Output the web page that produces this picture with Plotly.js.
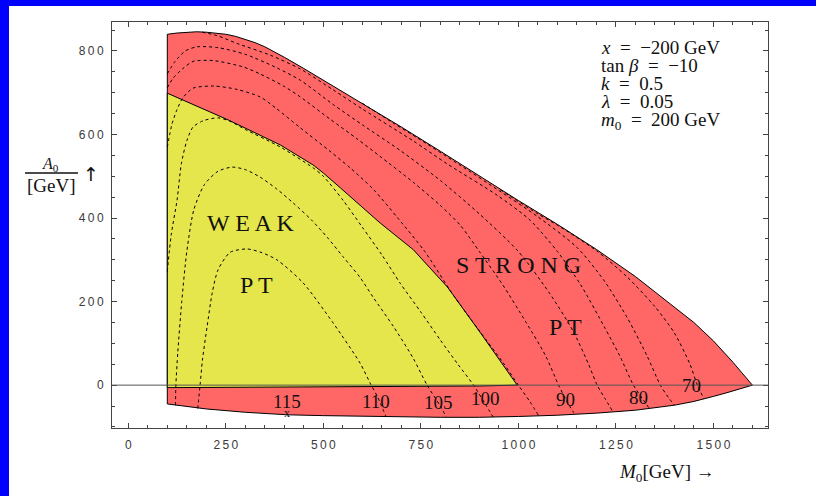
<!DOCTYPE html>
<html>
<head>
<meta charset="utf-8">
<script src="https://cdn.plot.ly/plotly-3.0.1.min.js"></script>
<style>
  html, body { margin:0; padding:0; background:#0000FF; width:816px; height:496px; overflow:hidden; }
  #chart { position:absolute; left:9px; top:6px; width:807px; height:490px; background:#fff; }
</style>
</head>
<body>
<div id="chart"></div>
<script>
// ---------- data ----------
const xTickVals = [0, 250, 500, 750, 1000, 1250, 1500];
const yTickVals = [0, 200, 400, 600, 800];

// outer (strong PT, red) region
const redTopX = [100, 100, 125, 150, 175, 200, 225, 250, 275, 300, 325, 350, 375, 400, 450, 500, 600, 700, 800, 900, 1000, 1100, 1200, 1300, 1400, 1450, 1500, 1550, 1600];
const redTopY = [-45, 840, 843, 845, 846, 845, 843, 840, 835, 828, 820, 810, 798, 785, 758, 730, 675, 618, 560, 500, 442, 385, 325, 260, 188, 150, 106, 55, 0];
const redBotX = [1570, 1535, 1500, 1450, 1400, 1300, 1200, 1100, 1000, 900, 800, 700, 600, 500, 408, 300, 200, 100];
const redBotY = [-9, -18, -27, -39, -48, -60, -67, -72, -75, -77, -77, -76, -74, -73, -71, -65, -57, -45];

// weak PT (yellow) region
const yelTopX = [100, 100, 256, 390, 474, 500, 544, 646, 731, 818, 903, 997];
const yelTopY = [-6, 699, 635, 575, 527, 508, 472, 388, 324, 235, 125, 0];
const yelBotX = [900, 600, 300, 100];
const yelBotY = [-2, -4, -5, -6];

// Higgs-mass contours (GeV)
const c110X = [178, 184, 190, 202, 215, 230, 261, 304, 340, 381, 448, 525, 594, 620, 640, 660];
const c110Y = [-56, 0, 60, 140, 220, 276, 318, 326, 318, 300, 245, 149, 53, 5, -30, -74];
const c105X = [121, 122, 127, 137, 150, 168, 195, 230, 266, 300, 338, 380, 423, 470, 510, 550, 594, 628, 680, 730, 766, 800, 815];
const c105Y = [-48, 0, 80, 200, 320, 420, 480, 512, 522, 516, 498, 470, 436, 395, 354, 308, 258, 210, 140, 65, 0, -50, -76];
const c100X = [100, 110, 125, 136, 150, 166, 192, 230, 260, 300, 390, 474, 500, 551, 600, 650, 697, 750, 800, 845, 885, 915, 935];
const c100Y = [272, 360, 443, 530, 585, 618, 633, 640, 632, 612, 570, 520, 500, 442, 378, 312, 244, 175, 108, 50, 0, -45, -76];
const c95X = [100, 112, 125, 140, 166, 220, 279, 338, 380, 441, 517, 569, 629, 691, 760, 830, 900, 960, 1000, 1030, 1052];
const c95Y = [570, 625, 660, 688, 711, 716, 708, 690, 662, 616, 560, 520, 468, 400, 320, 220, 130, 55, 0, -40, -73];
const c90X = [100, 115, 140, 166, 218, 294, 338, 400, 441, 517, 586, 645, 730, 799, 851, 900, 960, 1020, 1070, 1103, 1125, 1142];
const c90Y = [712, 735, 758, 775, 777, 762, 745, 715, 690, 637, 590, 548, 486, 431, 383, 320, 240, 150, 70, 0, -40, -66];
const c85X = [100, 120, 146, 176, 230, 300, 380, 441, 525, 602, 700, 800, 900, 1000, 1080, 1140, 1180, 1202, 1222, 1242];
const c85Y = [745, 775, 800, 810, 808, 792, 760, 730, 672, 622, 560, 490, 410, 320, 220, 130, 50, 0, -32, -63];
const c80X = [190, 230, 279, 364, 441, 525, 602, 730, 817, 945, 1030, 1100, 1160, 1220, 1260, 1295, 1320, 1336];
const c80Y = [845, 836, 818, 790, 757, 707, 660, 585, 530, 455, 395, 320, 240, 140, 70, 0, -35, -56];
const c75X = [600, 680, 741, 850, 950, 1050, 1150, 1220, 1280, 1330, 1364, 1385, 1400];
const c75Y = [675, 627, 592, 527, 466, 403, 330, 250, 160, 70, 0, -30, -48];
const c70X = [953, 1050, 1100, 1200, 1280, 1350, 1400, 1440, 1459, 1476];
const c70Y = [468, 410, 383, 322, 258, 188, 125, 50, 0, -33];

// contour labels
const labelText = ['115', '110', '105', '100', '90', '80', '70'];
const labelX = [407, 636, 795, 915, 1120, 1309, 1443];
const labelY = [-40, -40, -42, -33, -35, -30, 0];

// region labels
const regionText = ['W E A K', 'P T', 'S T R O N G', 'P T'];
const regionX = [315, 328, 1000, 1120];
const regionY = [388, 240, 288, 140];

// parameters
const paramText = ['<i>x</i>\u2002=\u2002\u2212200 GeV', 'tan <i>\u03b2</i>\u2002=\u2002\u221210', '<i>k</i>\u2002=\u20020.5', '<i>\u03bb</i>\u2002=\u20020.05', '<i>m</i><sub>0</sub>\u2002=\u2002200 GeV'];
const paramY = [809, 766, 723, 678, 632];
const paramX = 1207;

// ---------- build ----------
const serif = 'Liberation Serif, DejaVu Serif, serif';
const spaced = v => String(v).split('').join('\u2009');

const traces = [];
traces.push({
  x: redTopX.concat(redBotX), y: redTopY.concat(redBotY),
  mode: 'lines', fill: 'toself', fillcolor: '#FF6666',
  line: {color: '#000', width: 1}, hoverinfo: 'skip'
});
traces.push({
  x: yelTopX.concat(yelBotX), y: yelTopY.concat(yelBotY),
  mode: 'lines', fill: 'toself', fillcolor: '#E5E64C',
  line: {color: '#000', width: 1}, hoverinfo: 'skip'
});
const contours = [[c110X, c110Y], [c105X, c105Y], [c100X, c100Y], [c95X, c95Y], [c90X, c90Y],
                  [c85X, c85Y], [c80X, c80Y], [c75X, c75Y], [c70X, c70Y]];
contours.forEach(c => traces.push({
  x: c[0], y: c[1], mode: 'lines', hoverinfo: 'skip',
  line: {color: '#000', width: 1, dash: '3px,3px', shape: 'spline', smoothing: 0.7}
}));

const annotations = [];
labelText.forEach((t, i) => annotations.push({
  x: labelX[i], y: labelY[i], xref: 'x', yref: 'y', text: t, showarrow: false,
  xanchor: 'center', yanchor: 'middle',
  font: {family: serif, size: 19, color: '#111'}
}));
annotations.push({x: 407, y: -66, xref: 'x', yref: 'y', text: 'x', showarrow: false,
  xanchor: 'center', yanchor: 'middle', font: {family: serif, size: 12, color: '#111'}});
regionText.forEach((t, i) => annotations.push({
  x: regionX[i], y: regionY[i], xref: 'x', yref: 'y', text: t, showarrow: false,
  xanchor: 'center', yanchor: 'middle',
  font: {family: serif, size: 24, color: '#111'}
}));
paramText.forEach((t, i) => annotations.push({
  x: paramX, y: paramY[i], xref: 'x', yref: 'y', text: t, showarrow: false,
  xanchor: 'left', yanchor: 'middle', font: {family: serif, size: 19, color: '#111'}
}));
// y-axis title as fraction
annotations.push({x: -0.0945, y: 0.648, xref: 'paper', yref: 'paper', text: '<i>A</i><sub>0</sub>',
  xanchor: 'center', yanchor: 'middle',
  showarrow: false, font: {family: serif, size: 16, color: '#111'}});
annotations.push({x: -0.0915, y: 0.5985, xref: 'paper', yref: 'paper', text: '[GeV]',
  xanchor: 'center', yanchor: 'middle',
  showarrow: false, font: {family: serif, size: 19, color: '#111'}});
annotations.push({x: -0.032, y: 0.6256, xref: 'paper', yref: 'paper', text: '\u2191',
  xanchor: 'center', yanchor: 'middle',
  showarrow: false, font: {family: 'DejaVu Sans', size: 19, color: '#111'}});
// x-axis title
annotations.push({x: 0.770, y: -0.1108, xref: 'paper', yref: 'paper', xanchor: 'left', yanchor: 'middle',
  text: '<i>M</i><sub>0</sub>[GeV] \u2192', showarrow: false,
  font: {family: serif, size: 19, color: '#111'}});

const axisCommon = {
  ticks: 'inside', ticklen: 5, tickcolor: '#444', tickwidth: 1,
  showline: true, linecolor: '#444', linewidth: 1, mirror: 'ticks',
  showgrid: false, zeroline: false, fixedrange: true,
  tickfont: {family: 'Liberation Sans, DejaVu Sans, sans-serif', size: 12, color: '#3a3a3a'}
};

const layout = {
  width: 807, height: 490,
  margin: {l: 103, r: 48, t: 16, b: 68},
  paper_bgcolor: '#fff', plot_bgcolor: '#fff',
  showlegend: false,
  xaxis: Object.assign({}, axisCommon, {
    range: [-41.8, 1640], tickmode: 'array', tickvals: xTickVals, ticktext: xTickVals.map(spaced),
    ticklabelstandoff: 6,
    minor: {dtick: 50, tick0: 0, ticks: 'inside', ticklen: 3, tickcolor: '#444', showgrid: false}
  }),
  yaxis: Object.assign({}, axisCommon, {
    range: [-102.6, 869.4], tickmode: 'array', tickvals: yTickVals, ticktext: yTickVals.map(spaced),
    ticklabelstandoff: 5,
    minor: {dtick: 50, tick0: 0, ticks: 'inside', ticklen: 3, tickcolor: '#444', showgrid: false}
  }),
  shapes: [
    {type: 'line', xref: 'paper', yref: 'y', x0: 0, x1: 1, y0: 0, y1: 0,
     line: {color: '#555', width: 1}, layer: 'above'},
    {type: 'line', xref: 'paper', yref: 'paper', x0: -0.1326, x1: -0.0518, y0: 0.628, y1: 0.628,
     line: {color: '#111', width: 1.5}}
  ],
  annotations: annotations
};

Plotly.newPlot('chart', traces, layout, {displayModeBar: false, staticPlot: true});
</script>
</body>
</html>
